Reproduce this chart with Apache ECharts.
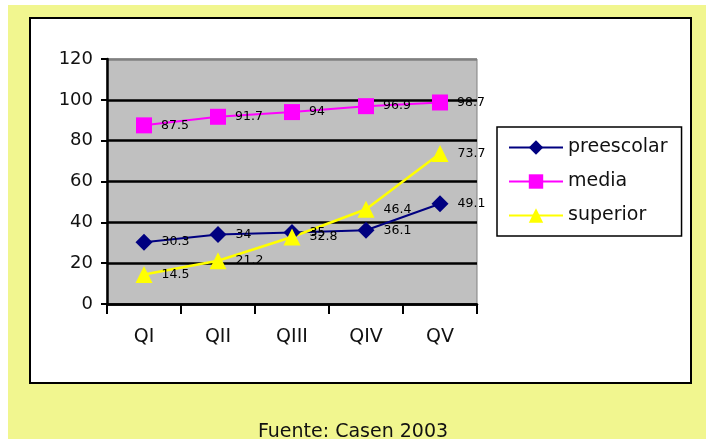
<!DOCTYPE html>
<html>
<head>
<meta charset="utf-8">
<script src="https://cdn.jsdelivr.net/npm/echarts@6/dist/echarts.min.js"></script>
<style>
html,body{margin:0;padding:0;background:#fff;}
#chart{width:706px;height:439px;}
</style>
</head>
<body>
<div id="chart"></div>
<script>
var categories = ['QI', 'QII', 'QIII', 'QIV', 'QV'];
var preescolar = [30.3, 34, 35, 36.1, 49.1];
var media = [87.5, 91.7, 94, 96.9, 98.7];
var superior = [14.5, 21.2, 32.8, 46.4, 73.7];
var yTicks = { min: 0, max: 120, interval: 20 };
var seriesNames = ['preescolar', 'media', 'superior'];
var footer = 'Fuente: Casen 2003';

var FONT = 'DejaVu Sans';
var chart = echarts.init(document.getElementById('chart'), null, { renderer: 'canvas' });

function labelCfg() {
  return { show: true, position: 'right', distance: 9, color: '#000', fontSize: 12.5, fontFamily: FONT };
}

var option = {
  animation: false,
  backgroundColor: '#ffffff',
  graphic: [
    { type: 'rect', z: -10, silent: true, shape: { x: 8, y: 5, width: 698, height: 434 }, style: { fill: '#f1f68f' } },
    { type: 'rect', z: -9, silent: true, shape: { x: 30, y: 18, width: 661, height: 365 }, style: { fill: '#ffffff', stroke: '#000', lineWidth: 2 } },
    { type: 'text', z: 10, silent: true, left: 'center', top: 423, style: { text: footer, fontSize: 19, fontFamily: FONT, fill: '#111' } }
  ],
  grid: {
    left: 107, right: 229, top: 59, bottom: 135,
    show: true, backgroundColor: '#c0c0c0', borderColor: '#808080', borderWidth: 1
  },
  legend: {
    orient: 'vertical', left: 497, top: 127,
    padding: [11, 14, 11, 11], itemGap: 15, itemWidth: 54, itemHeight: 18,
    backgroundColor: '#ffffff', borderColor: '#000', borderWidth: 1.5,
    textStyle: { fontSize: 19, fontFamily: FONT, color: '#111' },
    data: seriesNames
  },
  xAxis: {
    type: 'category', data: categories, boundaryGap: true,
    axisLine: { lineStyle: { color: '#000', width: 2.5 } },
    axisTick: { show: true, length: 10, alignWithLabel: false, lineStyle: { color: '#000', width: 2 } },
    axisLabel: { fontSize: 19, fontFamily: FONT, color: '#111', margin: 24 },
    splitLine: { show: false }
  },
  yAxis: {
    type: 'value', min: yTicks.min, max: yTicks.max, interval: yTicks.interval,
    axisLine: { show: true, lineStyle: { color: '#000', width: 2.5 } },
    axisTick: { show: true, length: 6, lineStyle: { color: '#000', width: 2 } },
    axisLabel: { fontSize: 18, fontFamily: FONT, color: '#111', margin: 14 },
    splitLine: { show: true, lineStyle: { color: ['#000', '#000', '#000', '#000', '#000', '#000', '#808080'], width: 2.5 } }
  },
  series: [
    {
      name: seriesNames[0], type: 'line', data: preescolar,
      symbol: 'diamond', symbolSize: 17,
      itemStyle: { color: '#000080' }, lineStyle: { color: '#000080', width: 2 },
      label: labelCfg()
    },
    {
      name: seriesNames[1], type: 'line', data: media,
      symbol: 'rect', symbolSize: 16,
      itemStyle: { color: '#ff00ff' }, lineStyle: { color: '#ff00ff', width: 2 },
      label: labelCfg()
    },
    {
      name: seriesNames[2], type: 'line', data: superior,
      symbol: 'triangle', symbolSize: 17,
      itemStyle: { color: '#ffff00' }, lineStyle: { color: '#ffff00', width: 2.5 },
      label: labelCfg()
    }
  ]
};
chart.setOption(option);
</script>
</body>
</html>
